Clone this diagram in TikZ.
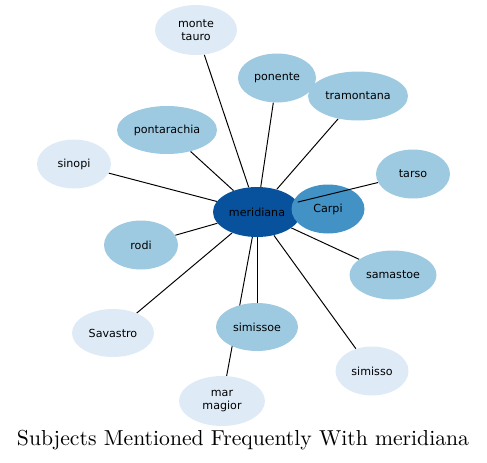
\documentclass[tikz,border=0pt]{standalone}
\usepackage{fontspec}
\setmainfont{Latin Modern Roman}
\newfontfamily\nodefont{DejaVu Sans}
\newfontfamily\titlefont{lmroman10-regular.otf}
\usetikzlibrary{shapes.geometric,backgrounds}
\definecolor{hubblue}{HTML}{08519C}
\definecolor{nearblue}{HTML}{4292C6}
\definecolor{midblue}{HTML}{9ECAE1}
\definecolor{paleblue}{HTML}{DEEBF7}
\tikzset{
  topic/.style 2 args={ellipse, inner sep=0pt, align=center,
    font=\nodefont\fontsize{8}{9.2}\selectfont,
    minimum width=#1*0.72pt, minimum height=#2*0.72pt},
  link/.style={line width=0.7pt, black}
}
\begin{document}
\begin{tikzpicture}[x=0.72pt,y=-0.72pt]
\useasboundingbox (0,0) rectangle (487,462);

\node[topic={88}{50}, fill=hubblue] (meridiana) at (257,212) {meridiana};
\node[topic={73}{49}, fill=nearblue] (carpi) at (328,209) {Carpi};

\node[topic={82}{50}, fill=paleblue] (monte) at (196,30) {monte\\tauro};
\node[topic={78}{49}, fill=midblue] (ponente) at (277,78) {ponente};
\node[topic={100}{49}, fill=midblue] (tramontana) at (358,96) {tramontana};
\node[topic={100}{48}, fill=midblue] (pontarachia) at (167,130) {pontarachia};
\node[topic={74}{49}, fill=paleblue] (sinopi) at (74,164) {sinopi};
\node[topic={74}{49}, fill=midblue] (tarso) at (413,174) {tarso};
\node[topic={74}{49}, fill=midblue] (rodi) at (141,245) {rodi};
\node[topic={87}{49}, fill=midblue] (samastoe) at (393,275) {samastoe};
\node[topic={82}{48}, fill=paleblue] (savastro) at (113,333) {Savastro};
\node[topic={82}{48}, fill=midblue] (simissoe) at (257,327) {simissoe};
\node[topic={73}{49}, fill=paleblue] (simisso) at (372,371) {simisso};
\node[topic={86}{50}, fill=paleblue] (mar) at (222,401) {mar\\magior};

\begin{scope}[on background layer]
\foreach \t in {carpi,monte,ponente,tramontana,pontarachia,sinopi,rodi,
  samastoe,savastro,simissoe,simisso,mar}
  \draw[link] (meridiana) -- (\t);
\end{scope}
\draw[link] (meridiana) -- (tarso);

\node[font=\titlefont\fontsize{15.6}{18}\selectfont] (title) at (243,440) {Subjects Mentioned Frequently With meridiana};
\end{tikzpicture}
\end{document}
